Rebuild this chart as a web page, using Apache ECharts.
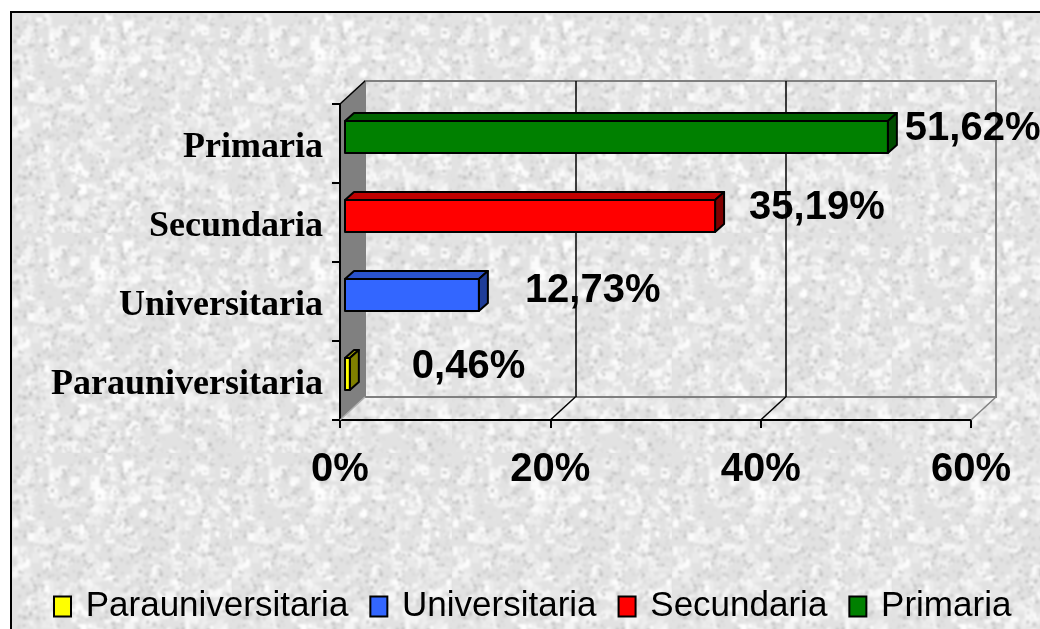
<!DOCTYPE html>
<html>
<head>
<meta charset="utf-8">
<script src="https://cdn.jsdelivr.net/npm/echarts@6/dist/echarts.min.js"></script>
<style>
  html, body { margin: 0; padding: 0; width: 1040px; height: 629px; overflow: hidden; background: #ffffff; }
  #bg { position: absolute; left: 10px; top: 11px; width: 1100px; height: 700px;
        border-left: 2px solid #000; border-top: 2px solid #000; background-color: #e2e2e2; }
  #chart { position: absolute; left: 0; top: 0; width: 1040px; height: 629px; }
</style>
</head>
<body>
<div id="bg"></div>
<div id="chart"></div>
<script>
// ---- data ----
const categories = ['Parauniversitaria', 'Universitaria', 'Secundaria', 'Primaria'];
const shares = [0.46, 12.73, 35.19, 51.62];
const shareLabels = ['0,46%', '12,73%', '35,19%', '51,62%'];
const xTickValues = [0, 20, 40, 60];

// ---- styles ----
const FACE = [
  { front: '#ffff00', top: '#9a9a00', side: '#808000' },
  { front: '#3366ff', top: '#2a52cc', side: '#1f3d99' },
  { front: '#ff0000', top: '#c00000', side: '#800000' },
  { front: '#008000', top: '#006400', side: '#004d00' }
];
const DEPTH = [25, -23];      // wall depth vector
const BAR_DEPTH = [9, -8];    // bar depth vector
const BAR_SHIFT = [5, -6.5];  // bar front face offset from front plane
const BAR_H = 32;
const LABEL_GAP = [53, 37, 25, 8];
const LABEL_DY = [-7, -4, -8, -8];

// background texture (deterministic, decorative only)
(function () {
  const N = 220;
  const c = document.createElement('canvas');
  c.width = N; c.height = N;
  const ctx = c.getContext('2d');
  ctx.fillStyle = '#e2e2e2';
  ctx.fillRect(0, 0, N, N);
  let s = 987654;
  const next = () => (s = (s * 16807) % 2147483647) / 2147483647;
  for (let i = 0; i < 700; i++) {
    const g = 230 + Math.floor(next() * 25);
    ctx.fillStyle = 'rgb(' + g + ',' + g + ',' + g + ')';
    ctx.fillRect(next() * N, next() * N, 3 + next() * 8, 3 + next() * 8);
  }
  for (let i = 0; i < 1400; i++) {
    const g = 190 + Math.floor(next() * 40);
    ctx.fillStyle = 'rgb(' + g + ',' + g + ',' + g + ')';
    ctx.fillRect(next() * N, next() * N, 1 + next() * 3, 1 + next() * 3);
  }
  const c2 = document.createElement('canvas');
  c2.width = N; c2.height = N;
  const ctx2 = c2.getContext('2d');
  ctx2.fillStyle = '#e2e2e2';
  ctx2.fillRect(0, 0, N, N);
  ctx2.filter = 'blur(1px)';
  ctx2.drawImage(c, 0, 0);
  document.getElementById('bg').style.backgroundImage = 'url(' + c2.toDataURL() + ')';
})();

const chart = echarts.init(document.getElementById('chart'), null, { renderer: 'canvas' });

function renderFrame(params, api) {
  const cs = params.coordSys;
  const x = cs.x, y = cs.y, w = cs.width, h = cs.height;
  const dx = DEPTH[0], dy = DEPTH[1];
  const yb = y + h;
  const children = [];
  // side wall
  children.push({ type: 'polygon', shape: { points: [[x, y], [x + dx, y + dy], [x + dx, yb + dy], [x, yb]] },
    style: { fill: '#808080', stroke: null } });
  children.push({ type: 'line', shape: { x1: x, y1: y, x2: x + dx, y2: y + dy }, style: { stroke: '#000', lineWidth: 1.5 } });
  children.push({ type: 'line', shape: { x1: x, y1: y, x2: x, y2: yb }, style: { stroke: '#000', lineWidth: 2 } });
  // floor diagonals
  xTickValues.forEach(function (t, i) {
    const px = api.coord([t, 0])[0];
    const col = (i === 0) ? '#b0b0b0' : (i === xTickValues.length - 1 ? '#808080' : '#000');
    children.push({ type: 'line', shape: { x1: px, y1: yb, x2: px + dx, y2: yb + dy }, style: { stroke: col, lineWidth: 1.5 } });
  });
  return { type: 'group', children: children };
}

function makeBarRenderer(ci) {
  return function (params, api) {
    const v = api.value(0), c = api.value(1);
    const p0 = api.coord([0, c]);
    const p1 = api.coord([v, c]);
    const x0 = p0[0] + BAR_SHIFT[0], x1 = p1[0] + BAR_SHIFT[0];
    const yc = p0[1] + BAR_SHIFT[1];
    const yt = yc - BAR_H / 2, yb = yc + BAR_H / 2;
    const dx = BAR_DEPTH[0], dy = BAR_DEPTH[1];
    const f = FACE[ci];
    const ln = { stroke: '#000', lineWidth: 2, lineJoin: 'round' };
    return { type: 'group', children: [
      { type: 'polygon', shape: { points: [[x0, yt], [x1, yt], [x1 + dx, yt + dy], [x0 + dx, yt + dy]] },
        style: Object.assign({ fill: f.top }, ln) },
      { type: 'polygon', shape: { points: [[x1, yt], [x1 + dx, yt + dy], [x1 + dx, yb + dy], [x1, yb]] },
        style: Object.assign({ fill: f.side }, ln) },
      { type: 'rect', shape: { x: x0, y: yt, width: x1 - x0, height: BAR_H },
        style: Object.assign({ fill: f.front }, ln) },
      { type: 'text', x: x1 + dx + LABEL_GAP[c], y: yc + LABEL_DY[c],
        style: { text: shareLabels[c], fill: '#000', fontSize: 40, fontWeight: 'bold',
                 fontFamily: '"Liberation Sans", Arial, sans-serif', verticalAlign: 'middle', align: 'left' } }
    ] };
  };
}

const barSeries = categories.map(function (name, i) {
  return {
    name: name, type: 'custom', xAxisIndex: 0, yAxisIndex: 0, clip: false, silent: true, z: 5,
    itemStyle: { color: FACE[i].front, borderColor: '#000', borderWidth: 2 },
    encode: { x: 0, y: 1 },
    data: [[shares[i], i]],
    renderItem: makeBarRenderer(i)
  };
});

const option = {
  animation: false,
  backgroundColor: 'transparent',
  legend: {
    data: categories.map(function (name, i) {
      return { name: name, itemStyle: { color: FACE[i].front, borderColor: '#000', borderWidth: 2 } };
    }),
    left: 48, top: 584,
    icon: 'rect', itemWidth: 17, itemHeight: 20, itemGap: 21,
    formatter: function (name) { return ' ' + name; },
    textStyle: { fontSize: 35, color: '#000', fontFamily: '"Liberation Sans", Arial, sans-serif' },
    selectedMode: false
  },
  grid: [
    { left: 340, top: 104, width: 631, height: 316, outerBoundsMode: 'none' },
    { left: 365, top: 81, width: 631, height: 316, outerBoundsMode: 'none', show: true,
      borderColor: '#808080', borderWidth: 2, backgroundColor: 'transparent' }
  ],
  xAxis: [
    { type: 'value', gridIndex: 0, min: 0, max: 60, interval: 20,
      axisLine: { show: true, lineStyle: { color: '#000', width: 2 } },
      axisTick: { show: true, length: 8, lineStyle: { color: '#000', width: 2 } },
      splitLine: { show: false },
      axisLabel: { formatter: '{value}%', margin: 30, color: '#000', fontSize: 40, fontWeight: 'bold',
                   fontFamily: '"Liberation Sans", Arial, sans-serif' } },
    { type: 'value', gridIndex: 1, min: 0, max: 60, interval: 20,
      axisLine: { show: false }, axisTick: { show: false }, axisLabel: { show: false },
      splitLine: { show: true, lineStyle: { color: ['#808080', '#000', '#000', '#808080'], width: 1.5 } } }
  ],
  yAxis: [
    { type: 'category', gridIndex: 0, data: categories,
      axisLine: { show: true, lineStyle: { color: '#000', width: 2 } },
      axisTick: { show: true, length: 8, lineStyle: { color: '#000', width: 2 } },
      splitLine: { show: false },
      axisLabel: { margin: 17, formatter: function (v) { return '{c|' + v + '}'; },
                   rich: { c: { color: '#000', fontSize: 36, fontWeight: 'bold', padding: [9, 0, 0, 0],
                                fontFamily: '"Liberation Serif", "Times New Roman", serif' } } } },
    { type: 'category', gridIndex: 1, data: categories,
      axisLine: { show: false }, axisTick: { show: false }, axisLabel: { show: false }, splitLine: { show: false } }
  ],
  series: [
    { name: 'frame', type: 'custom', xAxisIndex: 0, yAxisIndex: 0, clip: false, silent: true, z: 1,
      data: [[0, 0]], renderItem: renderFrame }
  ].concat(barSeries)
};
chart.setOption(option);
</script>
</body>
</html>
